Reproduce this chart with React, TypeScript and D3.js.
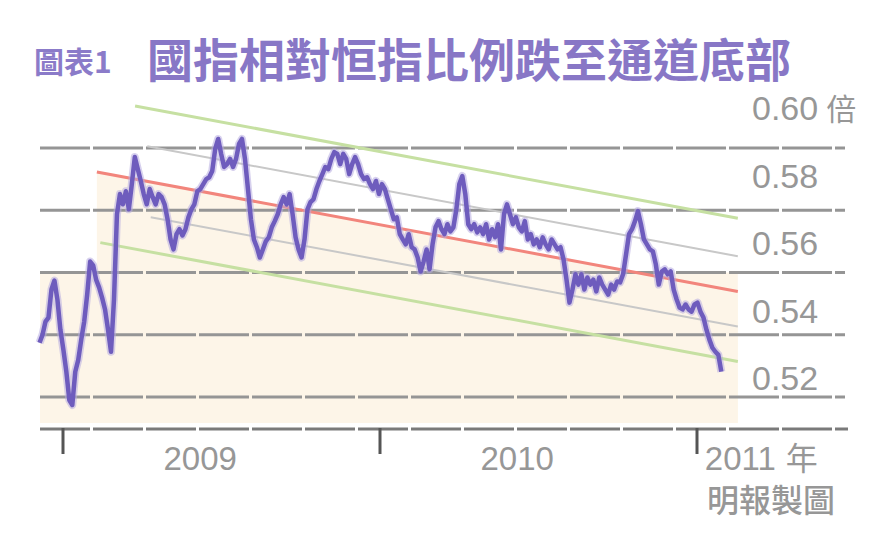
import * as d3 from 'd3'

// 國指 / 恒指 比率 (每約 3.5 日一點)
const seriesStart = new Date(2008, 11, 5)
const seriesEnd = new Date(2011, 0, 29)
const ratio = [
  0.5374, 0.54, 0.5442, 0.5455, 0.5545, 0.5574, 0.5513, 0.5416, 0.5352, 0.5281,
  0.519, 0.5174, 0.5281, 0.5319, 0.5384, 0.5442, 0.5529, 0.5635, 0.5623, 0.5577,
  0.5552, 0.5519, 0.5481, 0.5416, 0.5345, 0.5513, 0.5787, 0.5852, 0.5819, 0.5861,
  0.5803, 0.5884, 0.5971, 0.5932, 0.5894, 0.5852, 0.5819, 0.5868, 0.5842, 0.5819,
  0.5852, 0.5842, 0.5819, 0.5771, 0.5706, 0.5674, 0.5723, 0.5739, 0.5719, 0.5739,
  0.5777, 0.5803, 0.5819, 0.5861, 0.5868, 0.5884, 0.59, 0.5906, 0.5926, 0.5997,
  0.6029, 0.5981, 0.5939, 0.5948, 0.5965, 0.5939, 0.5965, 0.6013, 0.6029, 0.5965,
  0.5868, 0.5771, 0.5706, 0.5681, 0.5648, 0.5674, 0.57, 0.5713, 0.5745, 0.5765,
  0.5787, 0.5819, 0.5842, 0.5819, 0.5852, 0.5787, 0.5713, 0.5674, 0.5648, 0.5706,
  0.5803, 0.5826, 0.5835, 0.5868, 0.5894, 0.5916, 0.5939, 0.5932, 0.5965, 0.5987,
  0.5981, 0.5948, 0.5981, 0.5965, 0.5916, 0.5948, 0.5971, 0.5948, 0.5916, 0.59,
  0.5906, 0.5884, 0.5868, 0.5894, 0.5852, 0.5884, 0.5868, 0.5835, 0.5803, 0.5771,
  0.5777, 0.5723, 0.5706, 0.569, 0.5723, 0.5681, 0.5674, 0.5648, 0.5603, 0.5635,
  0.5674, 0.561, 0.569, 0.5745, 0.5765, 0.5739, 0.5723, 0.5755, 0.5732, 0.5745,
  0.5803, 0.5884, 0.591, 0.5852, 0.5755, 0.5739, 0.5755, 0.5729, 0.5745, 0.5723,
  0.5755, 0.5706, 0.5739, 0.5713, 0.5755, 0.5674, 0.5787, 0.5819, 0.5787, 0.5755,
  0.5777, 0.5745, 0.5732, 0.5765, 0.5706, 0.5723, 0.569, 0.5706, 0.5681, 0.5713,
  0.569, 0.5674, 0.5706, 0.569, 0.5674, 0.5681, 0.5642, 0.5577, 0.5503, 0.5545,
  0.5594, 0.5561, 0.5594, 0.5545, 0.5584, 0.5561, 0.5577, 0.5539, 0.5584, 0.5561,
  0.5545, 0.5529, 0.5561, 0.5545, 0.5571, 0.5568, 0.5594, 0.5658, 0.5723, 0.5739,
  0.5765, 0.5797, 0.5755, 0.5706, 0.569, 0.5674, 0.5668, 0.5626, 0.5561, 0.5603,
  0.561, 0.5594, 0.5603, 0.5545, 0.5513, 0.5487, 0.5481, 0.5497, 0.5481, 0.5474,
  0.5497, 0.5503, 0.5474, 0.5455, 0.5416, 0.5384, 0.5358, 0.5345, 0.5335, 0.5281,
]

// 趨勢線 (中線) 與通道
const trendStart = { date: new Date(2009, 1, 9), value: 0.5923 }
const trendEnd = { date: new Date(2011, 1, 17), value: 0.5539 }
const grayBands = [
  { offset: 0.0113, start: new Date(2009, 3, 8) },
  { offset: -0.0113, start: new Date(2009, 3, 12) },
]
const greenBands = [
  { offset: 0.0235, start: new Date(2009, 2, 25) },
  { offset: -0.0225, start: new Date(2009, 1, 13) },
]

const gridValues = [0.52, 0.54, 0.56, 0.58, 0.6]
const yLabels = ['0.52', '0.54', '0.56', '0.58', '0.60']
const yearTicks = [2009, 2010, 2011]
const yearLabels = ['2009', '2010']

const W = 884
const H = 540

export default function App() {
  const x = d3
    .scaleTime()
    .domain([new Date(2009, 0, 1), new Date(2011, 0, 1)])
    .range([63, 697])
  const y = d3.scaleLinear().domain([0.51, 0.6]).range([428, 148])
  // 右側標籤的位置 (與格線不完全對齊)
  const labelY = d3.scaleLinear().domain([0.52, 0.6]).range([390, 120])

  const step = (seriesEnd.getTime() - seriesStart.getTime()) / (ratio.length - 1)
  const points = ratio.map((v, i) => ({ date: new Date(seriesStart.getTime() + i * step), value: v }))

  const trend = d3
    .scaleTime()
    .domain([trendStart.date, trendEnd.date])
    .range([trendStart.value, trendEnd.value])

  const line = d3
    .line<{ date: Date; value: number }>()
    .x(d => x(d.date))
    .y(d => y(d.value))

  const bandLine = (offset: number, start: Date) =>
    line([
      { date: start, value: trend(start) + offset },
      { date: trendEnd.date, value: trendEnd.value + offset },
    ]) || ''

  const plotLeft = 40
  const plotRight = 845
  const axisY = y(0.51)
  const fillRight = x(trendEnd.date)
  const fillBottom = axisY - 5

  const beige = d3
    .area<{ date: Date; value: number }>()
    .x(d => x(d.date))
    .y0(fillBottom)
    .y1(d => y(d.value))([
    { date: trendStart.date, value: trendStart.value },
    { date: trendEnd.date, value: trendEnd.value },
  ])

  const grayText = '#979797'
  const sans = 'Liberation Sans, Arial, sans-serif'
  const cjk = '"Noto Sans CJK TC", "Noto Sans CJK SC", sans-serif'

  return (
    <svg width={W} height={H} style={{ position: 'fixed', left: 0, top: 0, background: '#fff' }}>
      {/* 標題 */}
      <text x={34} y={73} fontFamily={cjk} fontWeight={700} fontSize={30} fill="#8b7bc9">
        圖表1
      </text>
      <text x={147} y={77} fontFamily={cjk} fontWeight={700} fontSize={46} fill="#8877c6">
        國指相對恒指比例跌至通道底部
      </text>

      {/* 底色 */}
      <rect
        x={plotLeft}
        y={y(0.56)}
        width={fillRight - plotLeft}
        height={fillBottom - y(0.56)}
        fill="#fdf5e8"
      />
      <path d={beige || ''} fill="#fdf5e8" />

      {/* 格線 */}
      {gridValues.map(v => (
        <line
          key={v}
          x1={plotLeft}
          x2={plotRight}
          y1={y(v)}
          y2={y(v)}
          stroke="#959595"
          strokeWidth={3}
          strokeDasharray="50 3"
        />
      ))}

      {/* 通道 */}
      {greenBands.map((b, i) => (
        <path key={'g' + i} d={bandLine(b.offset, b.start)} stroke="#c6e0a2" strokeWidth={3} fill="none" />
      ))}
      {grayBands.map((b, i) => (
        <path key={'s' + i} d={bandLine(b.offset, b.start)} stroke="#c8c8c8" strokeWidth={2} fill="none" />
      ))}
      <path d={bandLine(0, trendStart.date)} stroke="#f2857c" strokeWidth={3} fill="none" />

      {/* 比率 */}
      <path
        d={line(points) || ''}
        fill="none"
        stroke="#b7ace0"
        strokeWidth={8}
        strokeLinejoin="round"
        opacity={0.55}
      />
      <path d={line(points) || ''} fill="none" stroke="#6e5cbd" strokeWidth={4.5} strokeLinejoin="round" />

      {/* X 軸 */}
      <line
        x1={plotLeft}
        x2={plotRight + 3}
        y1={axisY + 1}
        y2={axisY + 1}
        stroke="#7a7a7a"
        strokeWidth={3}
        strokeDasharray="50 3"
      />
      {yearTicks.map(yr => (
        <line
          key={yr}
          x1={x(new Date(yr, 0, 1))}
          x2={x(new Date(yr, 0, 1))}
          y1={axisY}
          y2={axisY + 26}
          stroke="#555"
          strokeWidth={3}
        />
      ))}
      {yearLabels.map(l => (
        <text
          key={l}
          x={x(new Date(+l, 5, 8))}
          y={470}
          textAnchor="middle"
          fontFamily={sans}
          fontSize={33}
          fill={grayText}
        >
          {l}
        </text>
      ))}
      <text x={x(new Date(2011, 0, 10))} y={470} fontFamily={sans} fontSize={33} fill={grayText}>
        2011
        <tspan fontFamily={cjk} dx={10} fontSize={32}>
          年
        </tspan>
      </text>
      <text x={707} y={512} fontFamily={cjk} fontSize={32} fontWeight={500} fill={grayText}>
        明報製圖
      </text>

      {/* Y 軸標籤 */}
      {gridValues.map((v, i) => (
        <text key={v} x={752} y={labelY(v)} fontFamily={sans} fontSize={34} fill={grayText}>
          {yLabels[i]}
          {i === gridValues.length - 1 ? (
            <tspan fontFamily={cjk} dx={8} fontSize={30}>
              倍
            </tspan>
          ) : null}
        </text>
      ))}
    </svg>
  )
}
